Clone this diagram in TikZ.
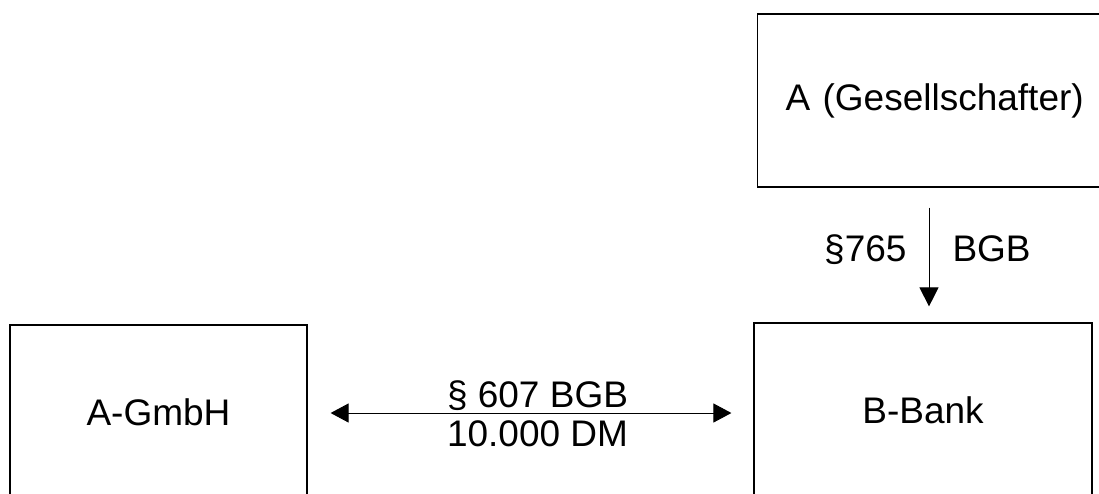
\documentclass[tikz,border=0pt]{standalone}
\usepackage{fontspec}
\setmainfont{Liberation Sans}
\usetikzlibrary{arrows.meta}

\begin{document}
\begin{tikzpicture}[x=1pt, y=-1pt,
        box/.style={draw, line width=1.2pt, rectangle, inner sep=0pt,
            font=\fontsize{37}{44}\selectfont},
        rel/.style={line width=1pt, {Triangle[length=18pt,width=19pt]}-{Triangle[length=18pt,width=19pt]}},
        down/.style={line width=1pt, -{Triangle[length=19pt,width=19pt]}},
        lbl/.style={inner sep=0pt, font=\fontsize{37}{44}\selectfont}]
        % Bildausschnitt
        \useasboundingbox (0,0) rectangle (1099,493);
        \clip (0,0) rectangle (1099,493);

        % Kästen
        \node[box, minimum width=297pt, minimum height=174pt] (gmbh) at (158.5,412) {A-GmbH};
        \node[box, minimum width=338pt, minimum height=174pt] (bank) at (923,410) {B-Bank};
        \node[box, anchor=west, minimum height=173pt, inner xsep=28pt, text width=372pt, align=left]
            (gesell) at (757,100.5) {A (Gesellschafter)};

        % Darlehen zwischen GmbH und Bank
        \draw[rel, shorten <=23pt, shorten >=22pt] (gmbh.east |- 0,413) -- (bank.west |- 0,413)
            node[lbl, midway, anchor=base, xshift=7pt, yshift=6pt] (r1) {§ 607 BGB}
            node[lbl, midway, anchor=north, xshift=7pt, yshift=-7pt] (r2) {10.000 DM};

        % Bürgschaft des Gesellschafters
        \coordinate (ax) at (929,0);
        \draw[down, shorten <=20pt, shorten >=16pt] (gesell.south -| ax) -- (bank.north -| ax)
            node[lbl, pos=0.55, anchor=base east, xshift=-22pt] (b1) {§765}
            node[lbl, pos=0.55, anchor=base west, xshift=23pt] (b2) {BGB};
\end{tikzpicture}
\end{document}
